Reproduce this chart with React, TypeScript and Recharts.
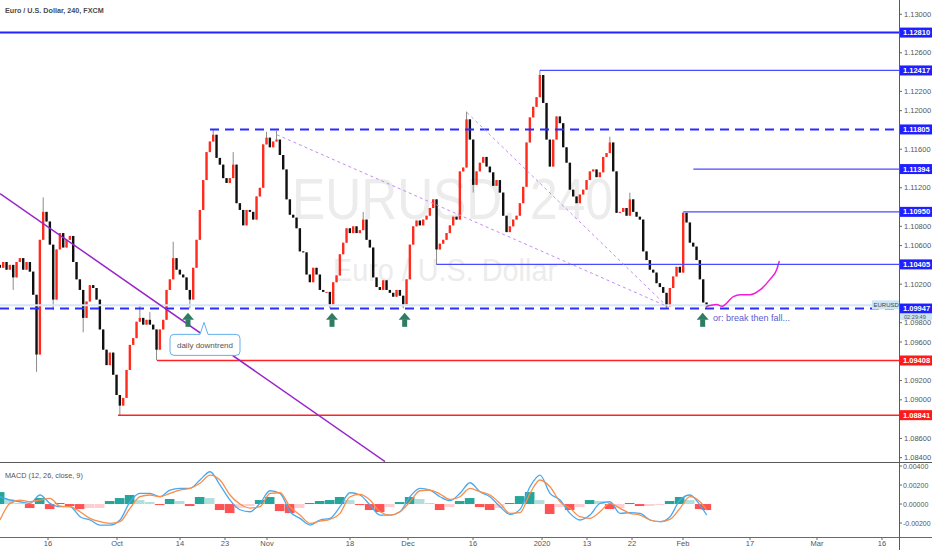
import React from "react";
import { ComposedChart, Bar, Line, XAxis, YAxis, ReferenceLine, ReferenceDot } from "recharts";

const FONT = "Arial, 'Liberation Sans', sans-serif";

// layout of the TradingView style screen
const W = 932;
const AXIS_W = 33;
const PLOT_W = W - AXIS_W;
const SLOT_PX = 10 / 3; // two candles per trading day on screen
const X_MAX = PLOT_W / SLOT_PX;
const MAIN_H = 462;
const PRICE_MIN = 1.08355;
const PRICE_MAX = 1.13148;
const MACD_MIN = -0.00347;
const MACD_MAX = 0.00432;

// ---- EURUSD candles (open = previous close) ----
const firstOpen = 1.104;
const closes = [
  1.1037, 1.1043, 1.1035, 1.104, 1.1027, 1.1043, 1.1047, 1.1035, 1.1043, 1.1033,
  1.1009, 1.0947, 1.1066, 1.1095, 1.1085, 1.1061, 1.1004, 1.1056, 1.1073, 1.1058,
  1.1066, 1.107, 1.1043, 1.1025, 1.1014, 1.0985, 1.1002, 1.1019, 1.1016, 1.1004,
  1.0973, 1.0952, 1.0936, 1.0949, 1.0926, 1.0905, 1.0894, 1.0902, 1.0931, 1.0957,
  1.0964, 1.0981, 1.0985, 1.0978, 1.0983, 1.0978, 1.0973, 1.0952, 1.0973, 1.0983,
  1.1014, 1.1025, 1.1047, 1.1035, 1.103, 1.1027, 1.1014, 1.1004, 1.1037, 1.1066,
  1.1097, 1.1128, 1.1157, 1.1168, 1.1175, 1.1151, 1.1144, 1.113, 1.1125, 1.113,
  1.1144, 1.1104, 1.1097, 1.1081, 1.1097, 1.1095, 1.1087, 1.1111, 1.112, 1.1165,
  1.1172, 1.1162, 1.1168, 1.117, 1.1154, 1.1139, 1.1108, 1.1092, 1.1089, 1.1078,
  1.1054, 1.1053, 1.103, 1.1022, 1.1037, 1.103, 1.1014, 1.1012, 1.1012, 1.0999,
  1.1022, 1.1029, 1.1051, 1.1063, 1.1078, 1.1073, 1.108, 1.1073, 1.1076, 1.1087,
  1.1066, 1.1058, 1.1027, 1.1017, 1.1014, 1.1024, 1.1014, 1.1011, 1.1007, 1.1014,
  1.1008, 1.0999, 1.1025, 1.1061, 1.108, 1.1086, 1.1081, 1.1087, 1.1091, 1.1099,
  1.1108, 1.1056, 1.1062, 1.1066, 1.1073, 1.1081, 1.109, 1.1087, 1.1137, 1.1141,
  1.1191, 1.117, 1.1123, 1.1137, 1.1146, 1.1152, 1.1142, 1.1136, 1.1122, 1.1128,
  1.1115, 1.1091, 1.1074, 1.108, 1.1087, 1.1091, 1.1104, 1.1121, 1.1167, 1.1193,
  1.1204, 1.1214, 1.1237, 1.1208, 1.117, 1.1142, 1.117, 1.1194, 1.1187, 1.1162,
  1.1146, 1.1118, 1.1111, 1.1104, 1.1113, 1.1118, 1.1128, 1.1137, 1.1139, 1.1131,
  1.1136, 1.1152, 1.1156, 1.1167, 1.1137, 1.1094, 1.1095, 1.1099, 1.1091, 1.1108,
  1.1095, 1.109, 1.1087, 1.1054, 1.1045, 1.1035, 1.1032, 1.1021, 1.1017, 1.1011,
  1.0997, 1.1016, 1.1028, 1.1038, 1.1032, 1.1094, 1.1084, 1.1063, 1.1059, 1.1045,
  1.1025, 1.1001, 1.0997,
];

// wicks that stick out beyond the bodies: [candle, price]
const wickHighs = [
  [13, 1.111], [42, 1.0999], [45, 1.0991], [52, 1.1064], [64, 1.1181], [70, 1.1157],
  [80, 1.1178], [83, 1.1179], [109, 1.1095], [140, 1.1199], [162, 1.1242], [183, 1.1173],
  [189, 1.1115], [205, 1.1095],
];
const wickLows = [
  [4, 1.1014], [11, 1.0929], [16, 1.0993], [25, 1.097], [36, 1.0884], [47, 1.0941],
  [57, 1.0995], [99, 1.0995], [121, 1.0995], [131, 1.104], [142, 1.1115], [200, 1.0995],
  [212, 1.0995],
];

// hand drawn projection (magenta)
const projSlots = [212, 215, 216.6, 220, 222, 225, 228, 231, 233, 233.8];
const projPrices = [1.0997, 1.0999, 1.0997, 1.1007, 1.1009, 1.1009, 1.1014, 1.1025, 1.1035, 1.1044];

// horizontal levels
const levelPrices = [1.1281, 1.12417, 1.11805, 1.11394, 1.1095, 1.10405, 1.09947, 1.09408, 1.08841];
const levelStarts = [0, 162, 63, 208, 205, 131, 0, 47.1, 35.4];
const levelKinds = ["heavy", "thin", "dashed", "thin", "thin", "thin", "dashed", "red", "red"];
const currentPrice = 1.0998;

// trend lines [start, end]
const downtrend = [{ x: 0, y: 1.1114 }, { x: 115.5, y: 1.0836 }];
const guideA = [{ x: 83.1, y: 1.1175 }, { x: 200.1, y: 1.0997 }];
const guideB = [{ x: 140.1, y: 1.1198 }, { x: 200.1, y: 1.0997 }];

// arrows and notes
const arrowSlots = [56.4, 99.6, 121.4, 210.8];
const arrowPrice = 1.0983;
const calloutSlot = 61.5;
const calloutPrice = 1.0957;
const noteSlot = 213.9;
const notePrice = 1.0985;

const priceTicks = [1.13, 1.126, 1.122, 1.12, 1.116, 1.112, 1.108, 1.106, 1.102, 1.098, 1.096, 1.092, 1.09, 1.086, 1.084];

// time axis
const timeLabels = ["16", "Oct", "14", "23", "Nov", "18", "Dec", "16", "2020", "13", "22", "Feb", "17", "Mar", "16"];
const timeSlots = [14.4, 35.1, 54, 67.5, 80.1, 105, 122.4, 141.9, 162.6, 176.1, 189.6, 204.9, 225, 245.1, 264.6];

// ---- MACD (12, 26, close, 9), every third candle ----
const macdValues = [
  0.00077, 0.00042, 0.00024, 0.00007, 0.00095, 0.00007, -0.00028, -0.00028, -0.00133, -0.00168,
  -0.00221, -0.00221, -0.00168, 0.00024, 0.00113, 0.00113, 0.00077, 0.00147, 0.00165, 0.00165,
  0.00253, 0.0034, 0.002, 0.00042, -0.0006, -0.00081, 0.00007, 0.0014, 0.00113, -0.00081,
  -0.00151, -0.00221, -0.00168, -0.00151, -0.00028, 0.00119, 0.00095, -0.00011, -0.00116, -0.00116,
  -0.00081, 0.00077, 0.00165, 0.00147, 0.00077, 0.00035, 0.00113, 0.00224, 0.0013, 0.00077,
  -0.00028, -0.00109, -0.00056, 0.00182, 0.00305, 0.00113, 0.00042, -0.00098, -0.00168, -0.00116,
  0.00007, 0.00024, -0.00098, -0.00091, -0.00098, -0.00168, -0.00186, -0.00133, 0.00042, 0.00095,
  -0.00011, -0.00116,
];
const signalValues = [
  -0.00168, 0.00007, 0.00042, 0.00024, 0.00042, 0.0006, -0.00021, -0.00028, -0.00081, -0.00151,
  -0.00186, -0.00203, -0.00186, -0.00045, 0.00077, 0.00095, 0.00077, 0.00113, 0.00147, 0.00165,
  0.00218, 0.00305, 0.00253, 0.00095, 0, -0.00042, -0.00028, 0.00113, 0.00119, -0.00028,
  -0.00116, -0.00203, -0.00179, -0.00161, -0.00098, 0.00077, 0.00102, 0.00042, -0.00081, -0.00116,
  -0.00081, 0.00024, 0.0014, 0.00147, 0.00105, 0.00049, 0.00077, 0.00165, 0.0013, 0.00095,
  0.00007, -0.00098, -0.00091, 0.00113, 0.00253, 0.00182, 0.00024, -0.00045, -0.00133, -0.00151,
  -0.00081, 0.00007, -0.00045, -0.00098, -0.00116, -0.00168, -0.00186, -0.00161, -0.00045, 0.00077,
  0.00024, -0.00063,
];
const histValues = [
  0.00126, 0.00053, 0.00011, -0.00042, 0.00063, -0.00053, 0.00011, -0.00021, -0.00053, -0.00042,
  -0.00042, 0.00032, 0.00063, 0.00095, 0.00042, 0.00021, -0.00011, 0.00053, 0.00032, -0.00021,
  0.00074, 0.00063, -0.00063, -0.00095, -0.00042, -0.00021, 0.00042, 0.00074, -0.00074, -0.00095,
  -0.00042, 0.00011, 0.00032, 0.00042, 0.00074, 0.00042, -0.00011, -0.00063, -0.00084, -0.00032,
  0.00021, 0.00074, 0.00053, 0.00011, -0.00063, -0.00032, 0.00032, 0.00063, -0.00032, -0.00063,
  -0.00042, 0.00011, 0.00084, 0.00126, 0.00042, -0.00105, -0.00032, -0.00063, -0.00032, 0.00042,
  0.00032, -0.00053, -0.00042, 0.00011, -0.00021, -0.00021, -0.00011, 0.00032, 0.00074, 0.00042,
  -0.00053, -0.00063,
];

const levelStyle: Record<string, any> = {
  heavy: { stroke: "#2323ff", width: 2, dash: undefined, tag: "#1f1fff" },
  thin: { stroke: "#4b4bff", width: 1.2, dash: undefined, tag: "#1f1fff" },
  dashed: { stroke: "#2c2cff", width: 2, dash: "9 6", tag: "#1f1fff" },
  red: { stroke: "#ff2323", width: 1.5, dash: undefined, tag: "#ff1a1a" },
};

const candleRows: any[] = closes.map((close, i) => {
  const open = i === 0 ? firstOpen : closes[i - 1];
  const hw = wickHighs.find((w) => w[0] === i);
  const lw = wickLows.find((w) => w[0] === i);
  const high = Math.max(open, close, hw ? hw[1] : open);
  const low = Math.min(open, close, lw ? lw[1] : open);
  return { i, open, close, range: [low, high] };
});
const mainData = [...candleRows];
projSlots.forEach((s, k) => {
  const row = mainData.find((r) => r.i === s);
  if (row) row.proj = projPrices[k];
  else mainData.push({ i: s, proj: projPrices[k] });
});

const macdSlots = [...Array.from({ length: 71 }, (_, j) => j * 3), 212];
const macdData = macdSlots.map((i, k) => {
  const h = histValues[k];
  const prev = k > 0 ? histValues[k - 1] : h;
  const color = h >= 0 ? (h >= prev ? "#26a69a" : "#b2dfdb") : h < prev ? "#ff5252" : "#ffcdd2";
  return { i, macd: macdValues[k], signal: signalValues[k], hist: h, color };
});

function Candle(props: any) {
  const { x, y, width, height, payload } = props;
  if (!payload || !payload.range) return null;
  const [low, high] = payload.range;
  const top = Math.min(y, y + height);
  const h = Math.abs(height);
  const cx = x + width / 2;
  const span = high - low;
  const toY = (v: number) => (span > 0 ? top + ((high - v) / span) * h : top);
  const yo = toY(payload.open);
  const yc = toY(payload.close);
  const up = payload.close >= payload.open;
  return (
    <g>
      <line x1={cx} x2={cx} y1={top} y2={top + h} stroke="#8c8c8c" strokeWidth={1} />
      <rect
        x={cx - 1.2}
        y={Math.min(yo, yc)}
        width={2.4}
        height={Math.max(Math.abs(yc - yo), 1)}
        fill={up ? "#ff2b1c" : "#111"}
      />
    </g>
  );
}

// histogram columns fill the whole step between two MACD samples
function HistBar(props: any) {
  const { x, y, width, height, payload } = props;
  if (!payload || payload.hist == null) return null;
  const top = Math.min(y, y + height);
  const cx = x + width / 2;
  return <rect x={cx - 4.8} y={top} width={9.6} height={Math.max(Math.abs(height), 0.5)} fill={payload.color} />;
}

const priceTag = (price: number, fill: string, withTimer: boolean) => (props: any) => {
  const vb = props.viewBox || {};
  const y = vb.y || 0;
  return (
    <g>
      <rect x={PLOT_W} y={y - 5} width={AXIS_W} height={10} fill={fill} />
      <text x={PLOT_W + 4} y={y + 2.6} fontSize={7.5} fontWeight={700} fill="#fff" fontFamily={FONT}>
        {price.toFixed(5)}
      </text>
      {withTimer && (
        <g>
          <rect x={PLOT_W} y={y + 5} width={AXIS_W} height={6.5} fill="#cbe4f6" />
          <text x={PLOT_W + 5} y={y + 10.3} fontSize={5.6} fill="#555" fontFamily={FONT}>
            02:29:49
          </text>
        </g>
      )}
    </g>
  );
};

const symbolTag = (props: any) => {
  const vb = props.viewBox || {};
  const y = vb.y || 0;
  return (
    <g>
      <rect x={PLOT_W - 27} y={y - 5} width={27} height={9} fill="#cbe4f6" />
      <text x={PLOT_W - 25.5} y={y + 1.8} fontSize={6} fill="#444" fontFamily={FONT}>
        EURUSD
      </text>
    </g>
  );
};

const UpArrow = (props: any) => {
  const { cx, cy } = props;
  return (
    <g fill="#2e7d62">
      <path d={`M${cx - 6},${cy} L${cx},${cy - 7} L${cx + 6},${cy} Z`} />
      <rect x={cx - 2.5} y={cy - 0.5} width={5} height={7.5} />
    </g>
  );
};

const Callout = (props: any) => {
  const { cx, cy } = props;
  const l = cx - 35;
  const r = cx + 35;
  const t = cy - 10.5;
  const b = cy + 10.5;
  const d = `M${l + 4},${t} H${cx - 5} L${cx - 1},${t - 12} L${cx + 3},${t} H${r - 4} Q${r},${t} ${r},${t + 4} V${b - 4} Q${r},${b} ${r - 4},${b} H${l + 4} Q${l},${b} ${l},${b - 4} V${t + 4} Q${l},${t} ${l + 4},${t} Z`;
  return (
    <g>
      <path d={d} fill="#fff" stroke="#64b0ea" strokeWidth={1} />
      <text x={cx} y={cy + 3} textAnchor="middle" fontSize={8} fill="#555" fontFamily={FONT}>
        daily downtrend
      </text>
    </g>
  );
};

const Note = (props: any) => (
  <text x={props.cx} y={props.cy + 3.5} fontSize={9} fill="#5b5bd0" fontFamily={FONT}>
    or: break then fall...
  </text>
);

export default function App() {
  return (
    <div style={{ position: "relative", width: W, height: 550, overflow: "hidden", background: "#fff", fontFamily: FONT }}>
      <style>{"body{margin:0}"}</style>

      <svg width={PLOT_W} height={MAIN_H} style={{ position: "absolute", left: 0, top: 0 }}>
        <text x={292} y={219} fontSize={58} fill="#ececec" textLength={321} lengthAdjust="spacingAndGlyphs" fontFamily={FONT}>
          EURUSD, 240
        </text>
        <text x={333} y={281} fontSize={31} fill="#ececec" textLength={224} lengthAdjust="spacingAndGlyphs" fontFamily={FONT}>
          Euro / U.S. Dollar
        </text>
      </svg>

      <div style={{ position: "absolute", left: 0, top: 0 }}>
        <ComposedChart width={W} height={MAIN_H} data={mainData} margin={{ top: 0, right: 0, bottom: 0, left: 0 }}>
          <XAxis dataKey="i" type="number" domain={[0, X_MAX]} hide allowDataOverflow />
          <YAxis
            orientation="right"
            type="number"
            width={AXIS_W}
            domain={[PRICE_MIN, PRICE_MAX]}
            allowDataOverflow
            ticks={priceTicks}
            interval={0}
            tickFormatter={(v: number) => v.toFixed(5)}
            tick={{ fontSize: 7.5, fill: "#555", fontFamily: FONT }}
            tickSize={3}
            tickMargin={2}
            axisLine={false}
            tickLine={{ stroke: "#666" }}
          />
          <ReferenceLine y={currentPrice} stroke="#d6e7f7" strokeWidth={2} />
          <Bar dataKey="range" barSize={3} shape={<Candle />} isAnimationActive={false} />
          <Line
            dataKey="proj"
            type="monotone"
            stroke="#f01ed2"
            strokeWidth={1.5}
            dot={false}
            isAnimationActive={false}
          />
          {levelPrices.map((p, k) => {
            const st = levelStyle[levelKinds[k]];
            return (
              <ReferenceLine
                key={p}
                segment={[{ x: levelStarts[k], y: p }, { x: X_MAX, y: p }]}
                stroke={st.stroke}
                strokeWidth={st.width}
                strokeDasharray={st.dash}
                label={priceTag(p, st.tag, k === 6)}
              />
            );
          })}
          <ReferenceLine segment={downtrend} stroke="#9a24c8" strokeWidth={1.5} />
          <ReferenceLine segment={guideA} stroke="#c48cf3" strokeWidth={1} strokeDasharray="3 3" />
          <ReferenceLine segment={guideB} stroke="#c48cf3" strokeWidth={1} strokeDasharray="3 3" />
          <ReferenceLine y={currentPrice} stroke="none" label={symbolTag} />
          {arrowSlots.map((s) => (
            <ReferenceDot key={s} x={s} y={arrowPrice} r={0} shape={(p: any) => <UpArrow {...p} />} />
          ))}
          <ReferenceDot x={calloutSlot} y={calloutPrice} r={0} shape={(p: any) => <Callout {...p} />} />
          <ReferenceDot x={noteSlot} y={notePrice} r={0} shape={(p: any) => <Note {...p} />} />
        </ComposedChart>
      </div>

      <div style={{ position: "absolute", left: 0, top: 463 }}>
        <ComposedChart width={W} height={87} data={macdData} margin={{ top: 0, right: 0, bottom: 0, left: 0 }}>
          <XAxis
            dataKey="i"
            type="number"
            domain={[0, X_MAX]}
            allowDataOverflow
            ticks={timeSlots}
            interval={0}
            tickFormatter={(v: number) => timeLabels[timeSlots.indexOf(v)]}
            height={13}
            axisLine={false}
            tickSize={3}
            tickMargin={1}
            tick={{ fontSize: 7.5, fill: "#555", fontFamily: FONT }}
            tickLine={{ stroke: "#666" }}
          />
          <YAxis
            orientation="right"
            type="number"
            width={AXIS_W}
            domain={[MACD_MIN, MACD_MAX]}
            allowDataOverflow
            ticks={[0.004, 0.002, 0, -0.002]}
            interval={0}
            tickFormatter={(v: number) => v.toFixed(5)}
            tick={{ fontSize: 7, fill: "#555", fontFamily: FONT }}
            tickSize={3}
            tickMargin={1}
            axisLine={false}
            tickLine={{ stroke: "#666" }}
          />
          <Bar dataKey="hist" barSize={6} shape={<HistBar />} isAnimationActive={false} />
          <Line dataKey="macd" type="monotone" stroke="#48a9f0" strokeWidth={1.3} dot={false} isAnimationActive={false} />
          <Line dataKey="signal" type="monotone" stroke="#f98d4a" strokeWidth={1.3} dot={false} isAnimationActive={false} />
        </ComposedChart>
      </div>

      <div style={{ position: "absolute", left: 0, top: 461.5, width: W, height: 1.5, background: "#5a5a5a" }} />
      <div style={{ position: "absolute", left: 0, top: 536.5, width: W, height: 1.5, background: "#6a6a6a" }} />
      <div style={{ position: "absolute", left: PLOT_W - 0.5, top: 0, width: 1, height: 550, background: "#5a5a5a" }} />

      <svg width={W} height={550} style={{ position: "absolute", left: 0, top: 0, pointerEvents: "none" }}>
        <text x={5} y={13} fontSize={7.2} fontWeight={700} fill="#4a4a4a" fontFamily={FONT}>
          Euro / U.S. Dollar, 240, FXCM
        </text>
        <text x={5} y={478} fontSize={7.3} fill="#555" fontFamily={FONT}>
          MACD (12, 26, close, 9)
        </text>
      </svg>
    </div>
  );
}
